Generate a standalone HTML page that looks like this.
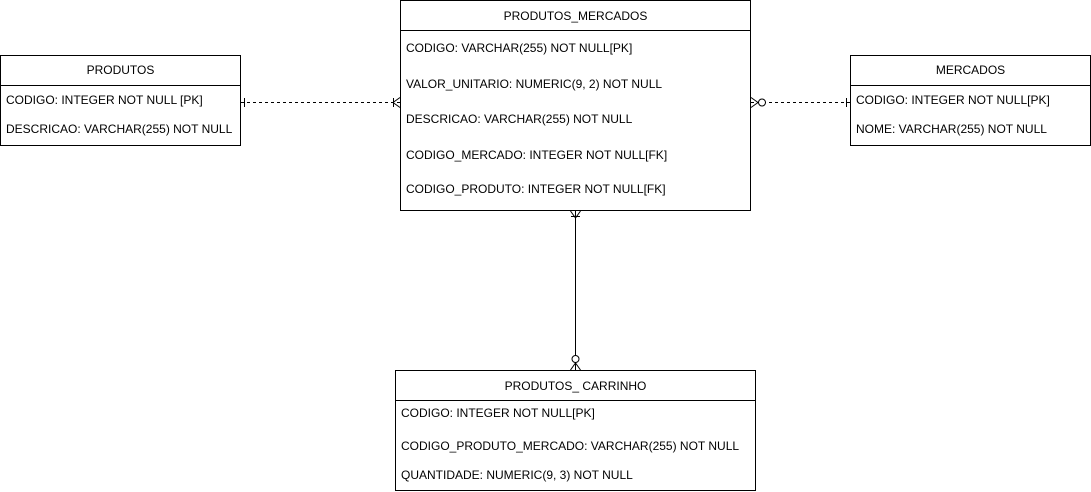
<!DOCTYPE html>
<html><head><style>body{margin:0;background:#fff}svg{display:block}text{font-family:"Liberation Sans",Arial,sans-serif;font-size:12px;fill:#000}</style></head><body>
<svg width="1091" height="492" viewBox="0 0 1091 492" xmlns="http://www.w3.org/2000/svg">
<g fill="#fff" stroke="#000" stroke-width="1">
<rect x="0.5" y="55.5" width="240" height="90"/><line x1="0.5" y1="85.5" x2="240.5" y2="85.5"/>
<rect x="850.5" y="55.5" width="240" height="90"/><line x1="850.5" y1="85.5" x2="1090.5" y2="85.5"/>
<rect x="400.5" y="0.5" width="350" height="210"/><line x1="400.5" y1="30.5" x2="750.5" y2="30.5"/>
<rect x="395.5" y="370.5" width="360" height="120"/><line x1="395.5" y1="400.5" x2="755.5" y2="400.5"/>
</g>
<g stroke="#000" fill="none" stroke-width="1">
<line x1="241" y1="102.5" x2="400" y2="102.5" stroke-dasharray="3,3"/>
<line x1="244.5" y1="98" x2="244.5" y2="107"/>
<line x1="393.5" y1="98" x2="393.5" y2="107"/>
<path d="M400 97.5 L393 102.5 L400 107.5"/>
<line x1="751" y1="102.5" x2="850" y2="102.5" stroke-dasharray="3,3"/>
<line x1="846.5" y1="98" x2="846.5" y2="107"/>
<path d="M751 97.5 L758 102.5 L751 107.5"/>
<circle cx="762" cy="102.5" r="3.5" fill="#fff"/>
<line x1="575.5" y1="211" x2="575.5" y2="370"/>
<line x1="571" y1="216.5" x2="580" y2="216.5"/>
<path d="M570.5 211 L575.5 218 L580.5 211"/>
<circle cx="575.5" cy="359" r="3.5" fill="#fff"/>
<path d="M570.5 370 L575.5 363 L580.5 370"/>
</g>
<text x="120.5" y="74" text-anchor="middle">PRODUTOS</text>
<text x="6" y="104">CODIGO: INTEGER NOT NULL [PK]</text>
<text x="6" y="133">DESCRICAO: VARCHAR(255) NOT NULL</text>
<text x="970.5" y="74" text-anchor="middle">MERCADOS</text>
<text x="856" y="104">CODIGO: INTEGER NOT NULL[PK]</text>
<text x="856" y="133">NOME: VARCHAR(255) NOT NULL</text>
<text x="575.5" y="20" text-anchor="middle">PRODUTOS_MERCADOS</text>
<text x="406" y="52">CODIGO: VARCHAR(255) NOT NULL[PK]</text>
<text x="406" y="88">VALOR_UNITARIO: NUMERIC(9, 2) NOT NULL</text>
<text x="406" y="123">DESCRICAO: VARCHAR(255) NOT NULL</text>
<text x="406" y="159">CODIGO_MERCADO: INTEGER NOT NULL[FK]</text>
<text x="406" y="193">CODIGO_PRODUTO: INTEGER NOT NULL[FK]</text>
<text x="575.5" y="390" text-anchor="middle">PRODUTOS_ CARRINHO</text>
<text x="401" y="417">CODIGO: INTEGER NOT NULL[PK]</text>
<text x="401" y="450">CODIGO_PRODUTO_MERCADO: VARCHAR(255) NOT NULL</text>
<text x="401" y="479">QUANTIDADE: NUMERIC(9, 3) NOT NULL</text>
</svg>
</body></html>
